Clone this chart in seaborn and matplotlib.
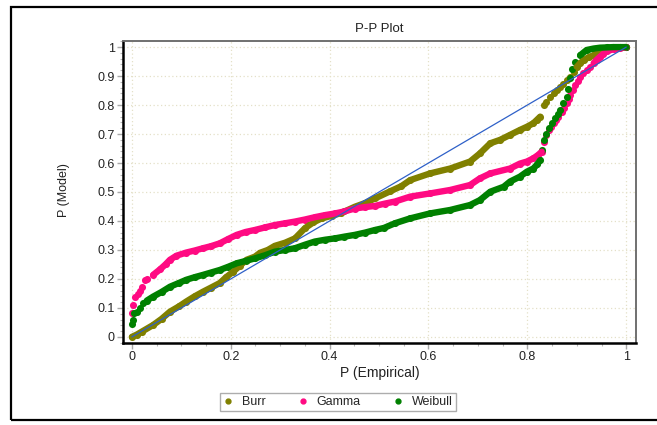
import matplotlib
matplotlib.use("Agg")
import matplotlib.pyplot as plt
import seaborn as sns
import numpy as np
import pandas as pd
from matplotlib.patches import Rectangle
from matplotlib.ticker import MultipleLocator, FuncFormatter
from matplotlib.lines import Line2D

sns.set_theme(style="white")
plt.rcParams['font.family'] = ['Liberation Sans', 'DejaVu Sans']

# P-P values
burr_x = [0, 0.01, 0.02, 0.043, 0.06, 0.077, 0.095, 0.11, 0.127, 0.144, 0.16, 0.178, 0.19, 0.205,
          0.218, 0.232, 0.249, 0.259, 0.275, 0.289, 0.31, 0.33, 0.35, 0.367, 0.384, 0.405, 0.424,
          0.451, 0.472, 0.492, 0.522, 0.545, 0.563, 0.603, 0.644, 0.684, 0.704, 0.725, 0.745, 0.765,
          0.785, 0.799, 0.812, 0.82, 0.826, 0.833, 0.838, 0.846, 0.853, 0.86, 0.867, 0.873, 0.88,
          0.887, 0.894, 0.90, 0.907, 0.914, 0.924, 0.934, 0.947, 0.961, 0.975, 0.988, 1.0]
burr_y = [0, 0.008, 0.018, 0.041, 0.062, 0.087, 0.105, 0.122, 0.14, 0.156, 0.17, 0.186, 0.205, 0.225,
          0.245, 0.266, 0.277, 0.29, 0.3, 0.314, 0.325, 0.34, 0.375, 0.395, 0.409, 0.418, 0.428,
          0.449, 0.462, 0.478, 0.502, 0.52, 0.541, 0.564, 0.581, 0.605, 0.633, 0.668, 0.68, 0.697,
          0.714, 0.725, 0.737, 0.75, 0.76, 0.80, 0.812, 0.829, 0.84, 0.852, 0.862, 0.871, 0.885,
          0.898, 0.915, 0.932, 0.945, 0.955, 0.965, 0.972, 0.982, 0.99, 0.996, 0.999, 1.0]

gamma_x = [0, 0.003, 0.006, 0.012, 0.016, 0.02, 0.026, 0.03, 0.043, 0.057, 0.068, 0.077, 0.09, 0.11,
           0.127, 0.144, 0.16, 0.178, 0.195, 0.212, 0.23, 0.249, 0.27, 0.289, 0.31, 0.33, 0.35, 0.37,
           0.39, 0.411, 0.43, 0.451, 0.472, 0.492, 0.512, 0.532, 0.563, 0.603, 0.644, 0.684, 0.704,
           0.725, 0.765, 0.785, 0.799, 0.812, 0.822, 0.829, 0.833, 0.838, 0.843, 0.848, 0.853, 0.858,
           0.863, 0.87, 0.875, 0.88, 0.884, 0.887, 0.892, 0.897, 0.902, 0.907, 0.913, 0.92, 0.927,
           0.934, 0.94, 0.947, 0.954, 0.961, 0.975, 0.988, 1.0]
gamma_y = [0.081, 0.11, 0.138, 0.148, 0.16, 0.173, 0.197, 0.2, 0.214, 0.233, 0.25, 0.266, 0.28, 0.291,
           0.298, 0.306, 0.313, 0.323, 0.338, 0.352, 0.362, 0.369, 0.378, 0.386, 0.392, 0.398, 0.405,
           0.413, 0.42, 0.426, 0.433, 0.443, 0.448, 0.452, 0.46, 0.467, 0.484, 0.495, 0.507, 0.524,
           0.547, 0.564, 0.581, 0.598, 0.605, 0.616, 0.628, 0.639, 0.674, 0.695, 0.714, 0.726, 0.737,
           0.748, 0.76, 0.777, 0.79, 0.806, 0.82, 0.834, 0.852, 0.869, 0.884, 0.898, 0.91, 0.921,
           0.933, 0.944, 0.956, 0.967, 0.977, 0.986, 0.993, 0.996, 1.0]

weibull_x = [0, 0.002, 0.004, 0.01, 0.016, 0.023, 0.03, 0.043, 0.06, 0.077, 0.095, 0.11, 0.127, 0.144,
             0.16, 0.178, 0.195, 0.212, 0.23, 0.249, 0.27, 0.289, 0.31, 0.33, 0.35, 0.37, 0.39, 0.411,
             0.43, 0.451, 0.472, 0.492, 0.51, 0.532, 0.563, 0.603, 0.644, 0.684, 0.704, 0.725, 0.752,
             0.765, 0.785, 0.799, 0.812, 0.82, 0.826, 0.829, 0.833, 0.838, 0.843, 0.85, 0.856, 0.861,
             0.866, 0.873, 0.88, 0.883, 0.887, 0.89, 0.897, 0.907, 0.92, 0.934, 0.947, 0.961, 0.974,
             0.988, 1.0]
weibull_y = [0.045, 0.059, 0.082, 0.085, 0.1, 0.116, 0.125, 0.139, 0.155, 0.173, 0.186, 0.197, 0.206,
             0.214, 0.222, 0.231, 0.242, 0.254, 0.262, 0.271, 0.282, 0.294, 0.3, 0.306, 0.318, 0.329,
             0.335, 0.34, 0.346, 0.352, 0.36, 0.369, 0.376, 0.392, 0.409, 0.426, 0.438, 0.455, 0.472,
             0.501, 0.518, 0.536, 0.553, 0.57, 0.581, 0.595, 0.61, 0.645, 0.679, 0.70, 0.72, 0.737,
             0.754, 0.77, 0.783, 0.806, 0.829, 0.857, 0.892, 0.926, 0.949, 0.972, 0.99, 0.995, 0.998,
             0.999, 1.0, 1.0, 1.0]

ref_x = [0, 1]
ref_y = [0, 1]

series = [
    ("Burr", burr_x, burr_y, "#808000", (0.0, 0.826), (0.9, 1.0)),
    ("Gamma", gamma_x, gamma_y, "#ff0a82", (0.043, 0.829), (0.934, 1.0)),
    ("Weibull", weibull_x, weibull_y, "#008000", (0.03, 0.826), (0.907, 1.0)),
]

fig = plt.figure(figsize=(6.57, 4.25), dpi=100)
ax = fig.add_axes([0.1872, 0.193, 0.781, 0.7105])

for name, xs, ys, col, body, top in series:
    df = pd.DataFrame({"x": xs, "y": ys})
    for lo, hi in (body, top):
        seg = df[(df["x"] >= lo) & (df["x"] <= hi)]
        sns.lineplot(data=seg, x="x", y="y", ax=ax, color=col, lw=4.6, sort=False,
                     estimator=None, solid_capstyle="round", solid_joinstyle="round", legend=False)
    sns.scatterplot(data=df, x="x", y="y", ax=ax, color=col, s=26, linewidth=0, legend=False)

sns.lineplot(x=ref_x, y=ref_y, ax=ax, color="#2e60c8", lw=0.9, legend=False, zorder=5)

ax.set_xlim(-0.018, 1.02)
ax.set_ylim(-0.021, 1.021)
ax.xaxis.set_major_locator(MultipleLocator(0.2))
ax.xaxis.set_minor_locator(MultipleLocator(0.05))
ax.yaxis.set_major_locator(MultipleLocator(0.1))
ax.yaxis.set_minor_locator(MultipleLocator(0.02))
fmt = FuncFormatter(lambda v, p: f"{v:.10g}" if abs(v) > 1e-9 else "0")
ax.xaxis.set_major_formatter(fmt)
ax.yaxis.set_major_formatter(fmt)

ax.grid(True, which="major", color="#e4e0c8", lw=0.9, linestyle=(0, (1, 2)))
ax.tick_params(which="major", direction="out", length=4, width=1, color="#a8a8a8",
               labelsize=9, labelcolor="#222222", pad=2)
ax.tick_params(which="minor", direction="out", length=2.5, width=0.8, color="#b8b8b8")
ax.tick_params(axis="x", which="both", bottom=True)
ax.tick_params(axis="y", which="both", left=True)

for side in ("left", "bottom"):
    ax.spines[side].set_color("black")
    ax.spines[side].set_linewidth(1.8)
for side in ("top", "right"):
    ax.spines[side].set_color("#707070")
    ax.spines[side].set_linewidth(1.4)

ax.set_title("P-P Plot", fontsize=9.5, pad=6.5, color="#222222")
ax.set_xlabel("P (Empirical)", fontsize=10, color="#222222")
ax.set_ylabel("P (Model)", fontsize=9, color="#222222")
ax.xaxis.set_label_coords(0.5, -0.075)
ax.yaxis.set_label_coords(-0.104, 0.505)

handles = [Line2D([], [], marker="o", linestyle="none", color=c, markersize=3.5)
           for _, _, _, c, _, _ in series]
leg = fig.legend(handles, [s[0] for s in series], loc="center", bbox_to_anchor=(0.5145, 0.054),
                 ncol=3, frameon=True, fancybox=False, fontsize=9, handlelength=0.8,
                 handletextpad=0.7, columnspacing=2.6, borderpad=0.25, edgecolor="#999999")
leg.get_frame().set_linewidth(1.0)

fig.patches.append(Rectangle((0.0167, 0.0118), 1.2, 0.9717, transform=fig.transFigure,
                             fill=False, edgecolor="black", lw=1.6))

fig.savefig("out.png", dpi=100)
